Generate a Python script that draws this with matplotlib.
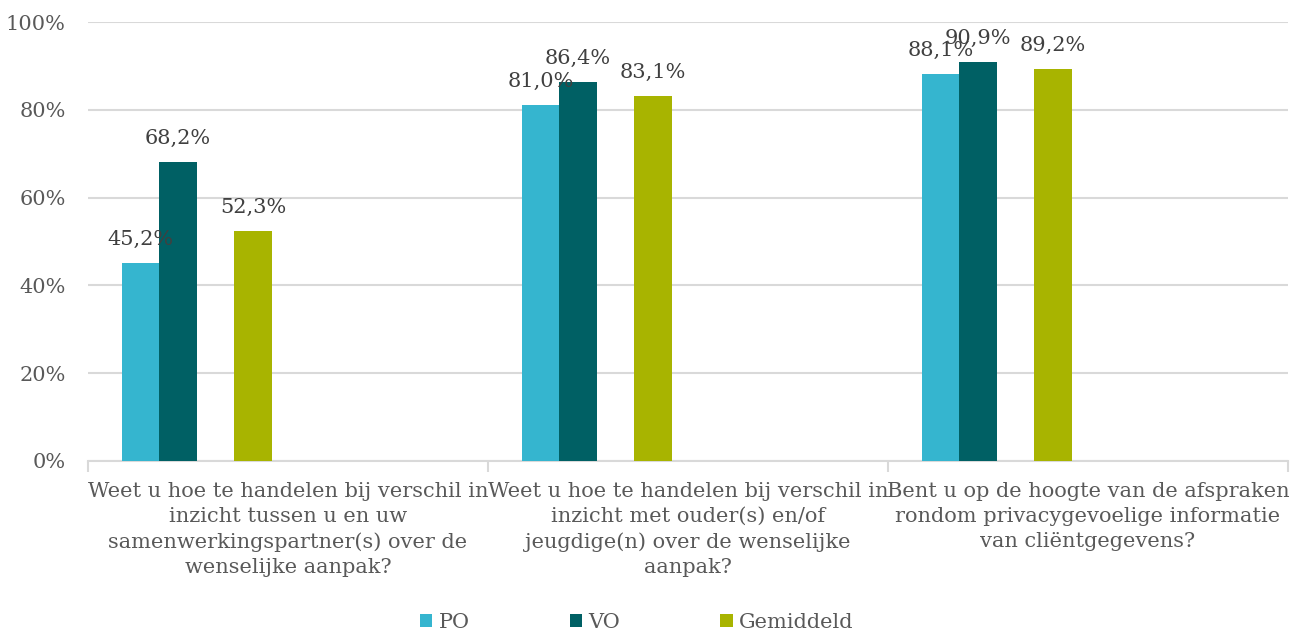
import numpy as np
import matplotlib.pyplot as plt

plt.rcParams["font.family"] = ["DejaVu Serif"]

categories = [
    "Weet u hoe te handelen bij verschil in\ninzicht tussen u en uw\nsamenwerkingspartner(s) over de\nwenselijke aanpak?",
    "Weet u hoe te handelen bij verschil in\ninzicht met ouder(s) en/of\njeugdige(n) over de wenselijke\naanpak?",
    "Bent u op de hoogte van de afspraken\nrondom privacygevoelige informatie\nvan cliëntgegevens?",
]
series = ["PO", "VO", "Gemiddeld"]
po = [45.2, 81.0, 88.1]
vo = [68.2, 86.4, 90.9]
gem = [52.3, 83.1, 89.2]
yticks = [0, 20, 40, 60, 80, 100]

colors = ["#35B5CF", "#006064", "#A8B400"]
TXT = "#595959"
FS = 15

fig = plt.figure(figsize=(12.99, 6.32), dpi=100, facecolor="white")
ax = fig.add_axes([88 / 1299, 1 - 461 / 632, 1200 / 1299, 439 / 632])

x = np.arange(len(categories))
w = 0.0935
slots = [0, 1, 3]  # empty slot between VO and Gemiddeld
start = -0.5 + 0.085
for vals, name, col, s in zip([po, vo, gem], series, colors, slots):
    pos = x + start + w * (s + 0.5)
    ax.bar(pos, vals, width=w, color=col, label=name, zorder=3)
    for xp, v in zip(pos, vals):
        ax.text(xp, v + 3.2, f"{v:.1f}%".replace(".", ","), ha="center", va="bottom",
                fontsize=15, color="#404040", zorder=4)

ax.set_xlim(-0.5, len(categories) - 0.5)
ax.set_ylim(0, 100)
ax.set_yticks(yticks)
ax.set_yticklabels([f"{t}%" for t in yticks], fontsize=FS, color=TXT)
ax.yaxis.grid(True, color="#D9D9D9", lw=1.5, zorder=0)
ax.tick_params(axis="y", length=0, pad=16)

ax.set_xticks(x)
ax.set_xticklabels(categories, fontsize=FS, color=TXT, linespacing=1.4)
ax.tick_params(axis="x", length=0, pad=15)
ax.set_xticks(np.arange(len(categories) + 1) - 0.5, minor=True)
ax.tick_params(axis="x", which="minor", length=8, color="#D9D9D9", width=1.5)

for sp in ["top", "right", "left"]:
    ax.spines[sp].set_visible(False)
ax.spines["bottom"].set_color("#D9D9D9")
ax.spines["bottom"].set_linewidth(1.5)

fig.legend(loc="lower center", ncol=3, bbox_to_anchor=(0.49, -0.03), frameon=False,
           fontsize=FS, labelcolor=TXT, handlelength=0.6, handleheight=0.6,
           handletextpad=0.3, columnspacing=4.8)

fig.savefig("out.png", dpi=100, facecolor="white")
